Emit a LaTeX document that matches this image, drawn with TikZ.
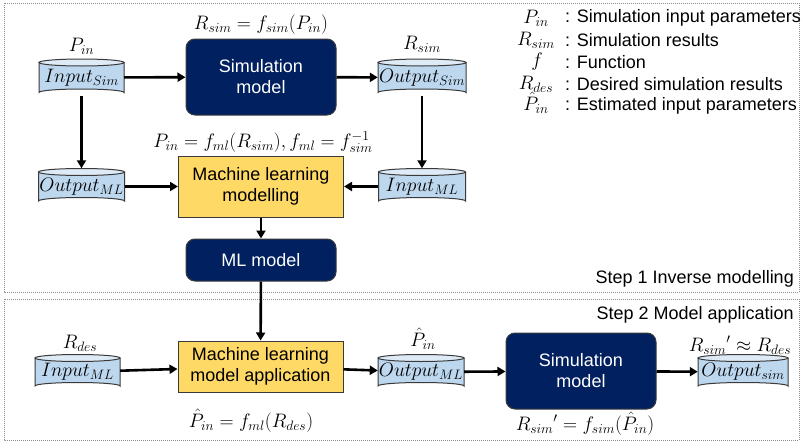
\documentclass[tikz,border=0pt]{standalone}
\usepackage{fix-cm}
\usepackage{fontspec}
\setmainfont{Liberation Sans}
\usetikzlibrary{arrows.meta}

\definecolor{navy}{HTML}{002060}
\definecolor{mlyellow}{HTML}{FFD966}
\definecolor{drumbody}{HTML}{BDD7EE}
\definecolor{drumtop}{HTML}{DEEBF7}
\definecolor{edge}{HTML}{3A3A3A}
\definecolor{framegray}{HTML}{8C8C8C}

\tikzset{
  every node/.style={font=\fontsize{18}{21}\selectfont, inner sep=0pt},
  mathlbl/.style={font=\fontsize{19.5}{22}\selectfont},
  simbox/.style={rounded corners=9pt, fill=navy, draw=edge, line width=1pt,
    text=white, align=center},
  mlbox/.style={fill=mlyellow, draw=edge, line width=1pt, align=center},
  flow/.style={line width=2.6pt, -{Triangle[length=8pt,width=9pt]}},
  frame/.style={draw=framegray, line width=0.7pt, dash pattern=on 1pt off 1pt},
  drumline/.style={draw=edge, line width=1pt},
  legendtext/.style={anchor=west},
}

% data drum: name, centre x, centre y, width, height, text
\newcommand\datadrum[6]{%
  \filldraw[drumline, fill=drumbody]
    ({#2-#4/2},{#3-#5/2+3.5}) -- ({#2-#4/2},{#3+#5/2-3.5})
    arc[start angle=180, end angle=360, x radius={#4/2}, y radius=3.5]
    -- ({#2+#4/2},{#3-#5/2+3.5}) -- cycle;
  \filldraw[drumline, fill=drumtop]
    (#2,{#3-#5/2+3.5}) ellipse [x radius={#4/2}, y radius=3.5];
  \node[mathlbl, minimum width=#4pt, minimum height=#5pt] (#1) at (#2,#3)
    {\raisebox{-3pt}{#6}};
}

\begin{document}
\begin{tikzpicture}[x=1pt, y=-1pt]
  \useasboundingbox (0,0) rectangle (804,442);

  % step frames
  \draw[frame] (4,3) rectangle (799,292);
  \draw[frame] (4,299) rectangle (799,440);

  % ---------- step 1 ----------
  \datadrum{insim}{81.5}{77.5}{85}{37}{$Input_{Sim}$}
  \datadrum{outsim}{422}{77.5}{88}{37}{$Output_{Sim}$}
  \datadrum{outml}{81.5}{186.5}{86}{36}{$Output_{ML}$}
  \datadrum{inml}{422}{186.5}{87}{36}{$Input_{ML}$}

  \node[simbox, minimum width=150pt, minimum height=76pt] (sim1) at (261,77)
    {Simulation\\model};
  \node[mlbox, minimum width=165pt, minimum height=61pt] (mlfit) at (261,186.5)
    {Machine learning\\modelling};
  \node[simbox, minimum width=150pt, minimum height=42pt] (mlmodel) at (261,260)
    {ML model};

  \node[mathlbl] (lbl-pin) at (81.5,46) {$P_{in}$};
  \node[mathlbl] (lbl-rsim) at (422,44) {$R_{sim}$};
  \node[mathlbl] (lbl-fsim) at (261,25) {$R_{sim} = f_{sim}(P_{in})$};
  \node[mathlbl] (lbl-fml) at (263,142) {$P_{in} = f_{ml}(R_{sim}), f_{ml} = f_{sim}^{-1}$};

  \draw[flow] (insim) -- (sim1);
  \draw[flow] (sim1) -- (outsim);
  \draw[flow] (insim) -- (outml);
  \draw[flow] (outsim) -- (inml);
  \draw[flow] (outml) -- (mlfit);
  \draw[flow] (inml) -- (mlfit);
  \draw[flow] (mlfit) -- (mlmodel);

  \node[anchor=east] (step1) at (794,279) {Step 1 Inverse modelling};

  % legend
  \node[mathlbl] (sym-p) at (536,18) {$P_{in}$};
  \node[legendtext] (def-p) at (565,18) {: Simulation input parameters};
  \node[mathlbl] (sym-r) at (536,40) {$R_{sim}$};
  \node[legendtext] (def-r) at (565,40) {: Simulation results};
  \node[mathlbl] (sym-f) at (537,62) {$f$};
  \node[legendtext] (def-f) at (565,62) {: Function};
  \node[mathlbl] (sym-d) at (536,84) {$R_{des}$};
  \node[legendtext] (def-d) at (565,84) {: Desired simulation results};
  \node[mathlbl] (sym-e) at (536,103) {$\hat{P}_{in}$};
  \node[legendtext] (def-e) at (565,106) {: Estimated input parameters};

  % ---------- step 2 ----------
  \datadrum{inml2}{77.5}{372}{85}{35}{$Input_{ML}$}
  \datadrum{outml2}{421}{372}{86}{35}{$Output_{ML}$}
  \datadrum{outsim2}{743}{372}{90}{35}{$Output_{sim}$}

  \node[mlbox, minimum width=165pt, minimum height=51pt] (mlapp) at (260.5,366.5)
    {Machine learning\\model application};
  \node[simbox, minimum width=150pt, minimum height=76pt] (sim2) at (581,371)
    {Simulation\\model};

  \node[mathlbl] (lbl-rdes) at (80,343) {$R_{des}$};
  \node[mathlbl] (lbl-phat) at (423,339) {$\hat{P}_{in}$};
  \node[mathlbl] (lbl-approx) at (740,345) {${R_{sim}}' \approx R_{des}$};
  \node[mathlbl] (lbl-fapp) at (251,421) {$\hat{P}_{in} = f_{ml}(R_{des})$};
  \node[mathlbl] (lbl-fsim2) at (585,424) {${R_{sim}}' = f_{sim}(\hat{P}_{in})$};

  \draw[flow] (mlmodel) -- (mlapp);
  \draw[flow] (inml2) -- (mlapp);
  \draw[flow] (mlapp) -- (outml2);
  \draw[flow] (outml2) -- (sim2);
  \draw[flow] (sim2) -- (outsim2);

  \node[anchor=east] (step2) at (794,315) {Step 2 Model application};
\end{tikzpicture}
\end{document}
